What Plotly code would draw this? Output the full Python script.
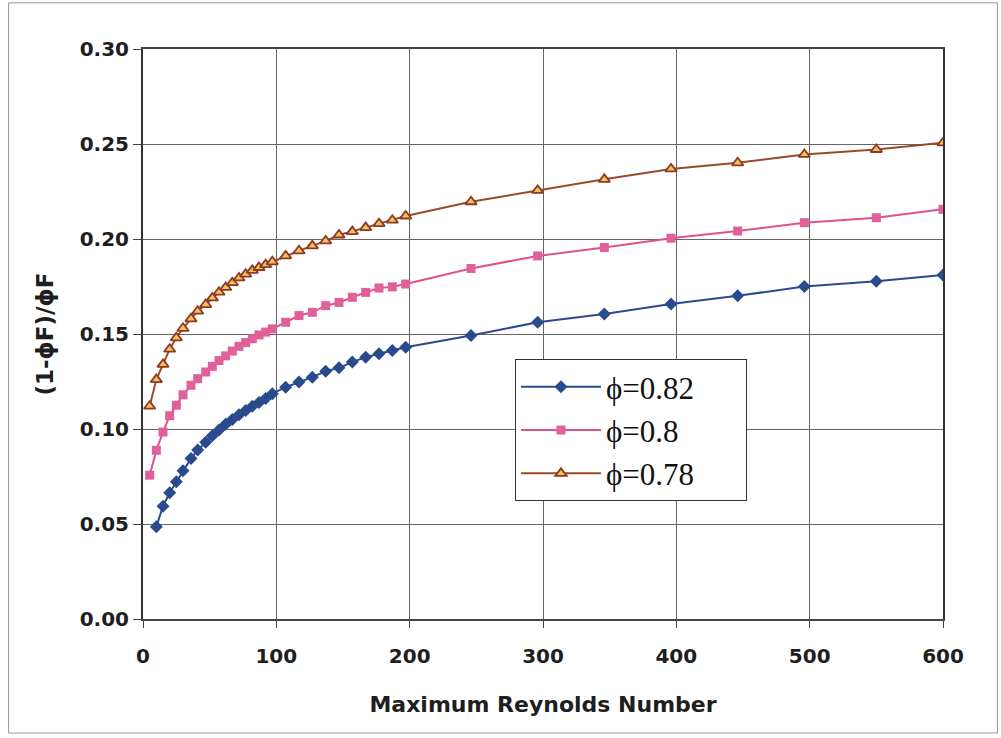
import plotly.graph_objects as go

# ---- data ----
x_078 = [5, 10, 15, 20, 25, 30, 36, 41, 47, 52, 57, 62, 67, 72, 77, 82, 87, 92, 97,
         107, 117, 127, 137, 147, 157, 167, 177, 187, 197,
         246, 296, 346, 396, 446, 496, 550, 600]
y_078 = [0.112, 0.126, 0.134, 0.142, 0.148, 0.153, 0.158, 0.162, 0.1655, 0.169, 0.172,
         0.1745, 0.177, 0.1795, 0.1815, 0.1835, 0.185, 0.1865, 0.188,
         0.1911, 0.1938, 0.1964, 0.1990, 0.2021, 0.2039, 0.2060, 0.2081, 0.2099, 0.2121,
         0.2196, 0.2256, 0.2314, 0.2369, 0.2401, 0.2445, 0.2471, 0.2506]

x_080 = [5, 10, 15, 20, 25, 30, 36, 41, 47, 52, 57, 62, 67, 72, 77, 82, 87, 92, 97,
         107, 117, 127, 137, 147, 157, 167, 177, 187, 197,
         246, 296, 346, 396, 446, 496, 550, 600]
y_080 = [0.0757, 0.0888, 0.0984, 0.107, 0.1125, 0.118, 0.123, 0.1265, 0.130, 0.133, 0.136,
         0.1385, 0.141, 0.1435, 0.1455, 0.1475, 0.1495, 0.151, 0.1527,
         0.1562, 0.1597, 0.1614, 0.1649, 0.1666, 0.1693, 0.1719, 0.1742, 0.1748, 0.1763,
         0.1845, 0.1911, 0.1955, 0.2004, 0.2042, 0.2086, 0.2112, 0.2156]

x_082 = [10, 15, 20, 25, 30, 36, 41, 47, 52, 57, 62, 67, 72, 77, 82, 87, 92, 97,
         107, 117, 127, 137, 147, 157, 167, 177, 187, 197,
         246, 296, 346, 396, 446, 496, 550, 600]
y_082 = [0.0486, 0.0594, 0.0664, 0.0722, 0.078, 0.0845, 0.089, 0.093, 0.0965, 0.0995,
         0.1025, 0.105, 0.1075, 0.1098, 0.112, 0.114, 0.116, 0.1186,
         0.1220, 0.1247, 0.1273, 0.1304, 0.1322, 0.1352, 0.1378, 0.1396, 0.1413, 0.1430,
         0.1492, 0.1562, 0.1605, 0.1658, 0.1701, 0.1750, 0.1777, 0.1810]

pad = "\u00a0" * 6
names = ["\u03d5=0.82" + pad, "\u03d5=0.8" + pad, "\u03d5=0.78" + pad]
x_ticks = [0, 100, 200, 300, 400, 500, 600]
y_ticks = [0.00, 0.05, 0.10, 0.15, 0.20, 0.25, 0.30]

fig = go.Figure()
fig.add_trace(go.Scatter(
    x=x_082, y=y_082, name=names[0], mode="lines+markers", legendgroup="a",
    line=dict(color="#2A4A8E", width=2),
    marker=dict(symbol="diamond", size=10, color="#2A4A8E", line=dict(width=0))))
fig.add_trace(go.Scatter(
    x=x_080, y=y_080, name=names[1], mode="lines+markers", legendgroup="b",
    line=dict(color="#E0508A", width=2),
    marker=dict(symbol="square", size=9, color="#E0609A", line=dict(width=0))))
fig.add_trace(go.Scatter(
    x=x_078, y=y_078, name=names[2], mode="lines+markers", legendgroup="c",
    line=dict(color="#9A4A2C", width=2),
    marker=dict(symbol="triangle-up", size=10, color="#F2C060",
                line=dict(width=1.8, color="#8E3A22"))))

tick_font = dict(family="DejaVu Sans, Arial, sans-serif", size=20, color="#1e1e1e", weight="bold")
xtitle_font = dict(family="DejaVu Sans, Arial, sans-serif", size=22, color="#1e1e1e", weight="bold")
ytitle_font = dict(family="DejaVu Sans, Arial, sans-serif", size=23, color="#1e1e1e", weight="bold")

fig.update_layout(
    width=1001, height=738,
    paper_bgcolor="white", plot_bgcolor="white",
    margin=dict(l=143, r=58, t=49, b=119),
    showlegend=True,
    legend=dict(
        x=0.465, y=0.456, xanchor="left", yanchor="top",
        bgcolor="white", bordercolor="#333", borderwidth=1,
        font=dict(family="Liberation Serif, Times New Roman, serif", size=31, color="#111"),
        itemwidth=80, tracegroupgap=0, itemsizing="trace",
    ),
    xaxis=dict(
        range=[0, 600], tickvals=x_ticks, ticktext=[str(v) for v in x_ticks],
        showgrid=True, gridcolor="#666", gridwidth=1,
        showline=True, linecolor="#444", linewidth=1.5, mirror=True,
        ticks="outside", ticklen=7, tickcolor="#444", ticklabelstandoff=11,
        tickfont=tick_font, zeroline=False,
        title=dict(text="Maximum Reynolds Number", font=xtitle_font, standoff=30),
    ),
    yaxis=dict(
        range=[0, 0.30], tickvals=y_ticks, ticktext=["%.2f" % v for v in y_ticks],
        showgrid=True, gridcolor="#666", gridwidth=1,
        showline=True, linecolor="#333", linewidth=2, mirror=True,
        ticks="outside", ticklen=8, tickcolor="#444",
        tickfont=tick_font, zeroline=False,
        title=dict(text="(1-\u03d5F)/\u03d5F", font=ytitle_font, standoff=20),
    ),
    shapes=[dict(type="rect", xref="paper", yref="paper",
                 x0=-0.168, x1=1.068, y0=-0.2, y1=1.081,
                 line=dict(color="#999", width=1))],
)

fig.write_html("out.html")
